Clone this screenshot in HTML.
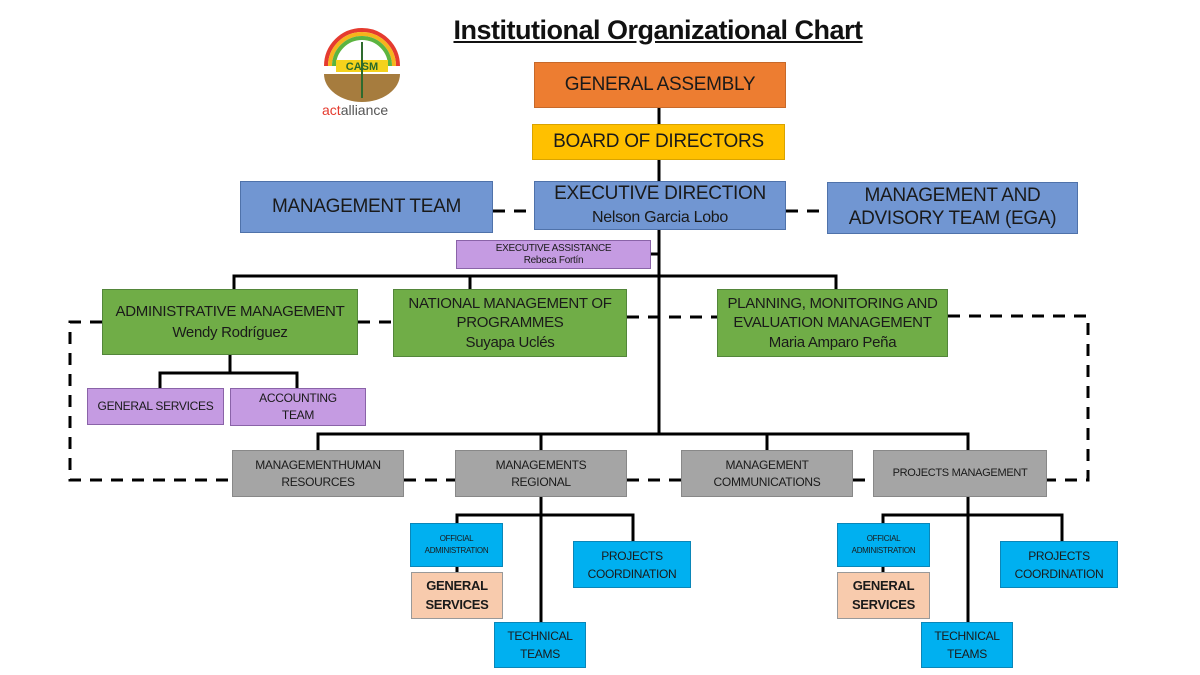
<!DOCTYPE html>
<html><head><meta charset="utf-8"><style>
body{margin:0;width:1200px;height:675px;background:#fff;position:relative;overflow:hidden;font-family:"Liberation Sans",sans-serif}
.b{position:absolute;display:flex;align-items:center;justify-content:center;text-align:center;color:#1a1a1a;box-sizing:border-box;line-height:1.2;letter-spacing:-0.3px}
.or{background:#ED7D31;border:1px solid #c7692a}
.ye{background:#FFC000;border:1px solid #d9a300}
.bl{background:#7196D2;border:1px solid #4f72aa}
.pu{background:#C59BE2;border:1px solid #8a63a8}
.gr{background:#70AD47;border:1px solid #53863a}
.gy{background:#A5A5A5;border:1px solid #888}
.cy{background:#00B0F0;border:1px solid #0a86b8}
.pe{background:#F8CBAD;border:1px solid #999}
svg{position:absolute;left:0;top:0}
</style></head><body>
<svg width="1200" height="675">
<g stroke="#000" stroke-width="3" fill="none">
<line x1="659" y1="108" x2="659" y2="434"/>
<line x1="651" y1="254" x2="659" y2="254"/>
<polyline points="234,289 234,276 836,276 836,289"/>
<line x1="470" y1="276" x2="470" y2="289"/>
<line x1="230" y1="355" x2="230" y2="373"/>
<polyline points="160,388 160,373 297,373 297,388"/>
<polyline points="318,450 318,434 968,434 968,450"/>
<line x1="541" y1="434" x2="541" y2="450"/>
<line x1="767" y1="434" x2="767" y2="450"/>
<line x1="541" y1="497" x2="541" y2="622"/>
<polyline points="457,523 457,515 633,515 633,541"/>
<line x1="457" y1="567" x2="457" y2="572"/>
<line x1="968" y1="497" x2="968" y2="622"/>
<polyline points="883,523 883,515 1062,515 1062,541"/>
<line x1="883" y1="567" x2="883" y2="572"/>
</g>
<g stroke="#000" stroke-width="3" fill="none" stroke-dasharray="12,9">
<line x1="493" y1="211" x2="534" y2="211"/>
<line x1="786" y1="211" x2="827" y2="211"/>
<polyline points="102,322 70,322 70,480 232,480"/>
<line x1="358" y1="322" x2="393" y2="322"/>
<line x1="627" y1="317" x2="717" y2="317"/>
<polyline points="948,316 1088,316 1088,480 1047,480"/>
<line x1="404" y1="480" x2="455" y2="480"/>
<line x1="627" y1="480" x2="681" y2="480"/>
<line x1="853" y1="480" x2="873" y2="480"/>
</g>
<path d="M326 66 A36 36 0 0 1 398 66" stroke="#e53b2f" stroke-width="4" fill="none"/>
<path d="M330 66 A32 32 0 0 1 394 66" stroke="#f6b41c" stroke-width="4" fill="none"/>
<path d="M334 66 A28 28 0 0 1 390 66" stroke="#5cb440" stroke-width="4" fill="none"/>
<path d="M324 74 L400 74 A38 28 0 0 1 324 74 Z" fill="#a67c3e"/>
<rect x="336" y="60" width="52" height="12" fill="#f6d21c"/>
<text x="362" y="70" font-size="11" font-weight="bold" text-anchor="middle" fill="#2a6a2a" font-family="Liberation Sans">CASM</text>
<line x1="362" y1="42" x2="362" y2="98" stroke="#2e6b2e" stroke-width="2"/>
<text x="322" y="115" font-size="14" font-family="Liberation Sans"><tspan fill="#e53b2f">act</tspan><tspan fill="#555">alliance</tspan></text>
</svg>
<div style="position:absolute;left:446px;top:15px;width:424px;text-align:center;font-size:27px;font-weight:bold;text-decoration:underline;color:#111;letter-spacing:-0.5px">Institutional Organizational Chart</div>
<div class="b or" style="left:534px;top:62px;width:252px;height:46px;font-size:19px">GENERAL ASSEMBLY</div>
<div class="b ye" style="left:532px;top:124px;width:253px;height:36px;font-size:19px">BOARD OF DIRECTORS</div>
<div class="b bl" style="left:534px;top:181px;width:252px;height:49px;font-size:19px"><div>EXECUTIVE DIRECTION<br><span style="font-size:16px">Nelson Garcia Lobo</span></div></div>
<div class="b bl" style="left:240px;top:181px;width:253px;height:52px;font-size:19px">MANAGEMENT TEAM</div>
<div class="b bl" style="left:827px;top:182px;width:251px;height:52px;font-size:19px"><div>MANAGEMENT AND<br>ADVISORY TEAM (EGA)</div></div>
<div class="b pu" style="left:456px;top:240px;width:195px;height:29px;font-size:10px"><div>EXECUTIVE ASSISTANCE<br>Rebeca Fortín</div></div>
<div class="b gr" style="left:102px;top:289px;width:256px;height:66px;font-size:15px;line-height:1.4"><div>ADMINISTRATIVE MANAGEMENT<br>Wendy Rodríguez</div></div>
<div class="b gr" style="left:393px;top:289px;width:234px;height:68px;font-size:15px;line-height:1.3"><div>NATIONAL MANAGEMENT OF<br>PROGRAMMES<br>Suyapa Uclés</div></div>
<div class="b gr" style="left:717px;top:289px;width:231px;height:68px;font-size:15px;line-height:1.3"><div>PLANNING, MONITORING AND<br>EVALUATION MANAGEMENT<br>Maria Amparo Peña</div></div>
<div class="b pu" style="left:87px;top:388px;width:137px;height:37px;font-size:12px">GENERAL SERVICES</div>
<div class="b pu" style="left:230px;top:388px;width:136px;height:38px;font-size:12px;line-height:1.4"><div>ACCOUNTING<br>TEAM</div></div>
<div class="b gy" style="left:232px;top:450px;width:172px;height:47px;font-size:12px;line-height:1.4"><div>MANAGEMENTHUMAN<br>RESOURCES</div></div>
<div class="b gy" style="left:455px;top:450px;width:172px;height:47px;font-size:12px;line-height:1.4"><div>MANAGEMENTS<br>REGIONAL</div></div>
<div class="b gy" style="left:681px;top:450px;width:172px;height:47px;font-size:12px;line-height:1.4"><div>MANAGEMENT<br>COMMUNICATIONS</div></div>
<div class="b gy" style="left:873px;top:450px;width:174px;height:47px;font-size:11px">PROJECTS MANAGEMENT</div>
<div class="b cy" style="left:410px;top:523px;width:93px;height:44px;font-size:8px;line-height:1.5"><div>OFFICIAL<br>ADMINISTRATION</div></div>
<div class="b pe" style="left:411px;top:572px;width:92px;height:47px;font-size:13px;font-weight:bold;line-height:1.4"><div>GENERAL<br>SERVICES</div></div>
<div class="b cy" style="left:494px;top:622px;width:92px;height:46px;font-size:12px;line-height:1.5"><div>TECHNICAL<br>TEAMS</div></div>
<div class="b cy" style="left:573px;top:541px;width:118px;height:47px;font-size:12px;line-height:1.5"><div>PROJECTS<br>COORDINATION</div></div>
<div class="b cy" style="left:837px;top:523px;width:93px;height:44px;font-size:8px;line-height:1.5"><div>OFFICIAL<br>ADMINISTRATION</div></div>
<div class="b pe" style="left:837px;top:572px;width:93px;height:47px;font-size:13px;font-weight:bold;line-height:1.4"><div>GENERAL<br>SERVICES</div></div>
<div class="b cy" style="left:921px;top:622px;width:92px;height:46px;font-size:12px;line-height:1.5"><div>TECHNICAL<br>TEAMS</div></div>
<div class="b cy" style="left:1000px;top:541px;width:118px;height:47px;font-size:12px;line-height:1.5"><div>PROJECTS<br>COORDINATION</div></div>
</body></html>
